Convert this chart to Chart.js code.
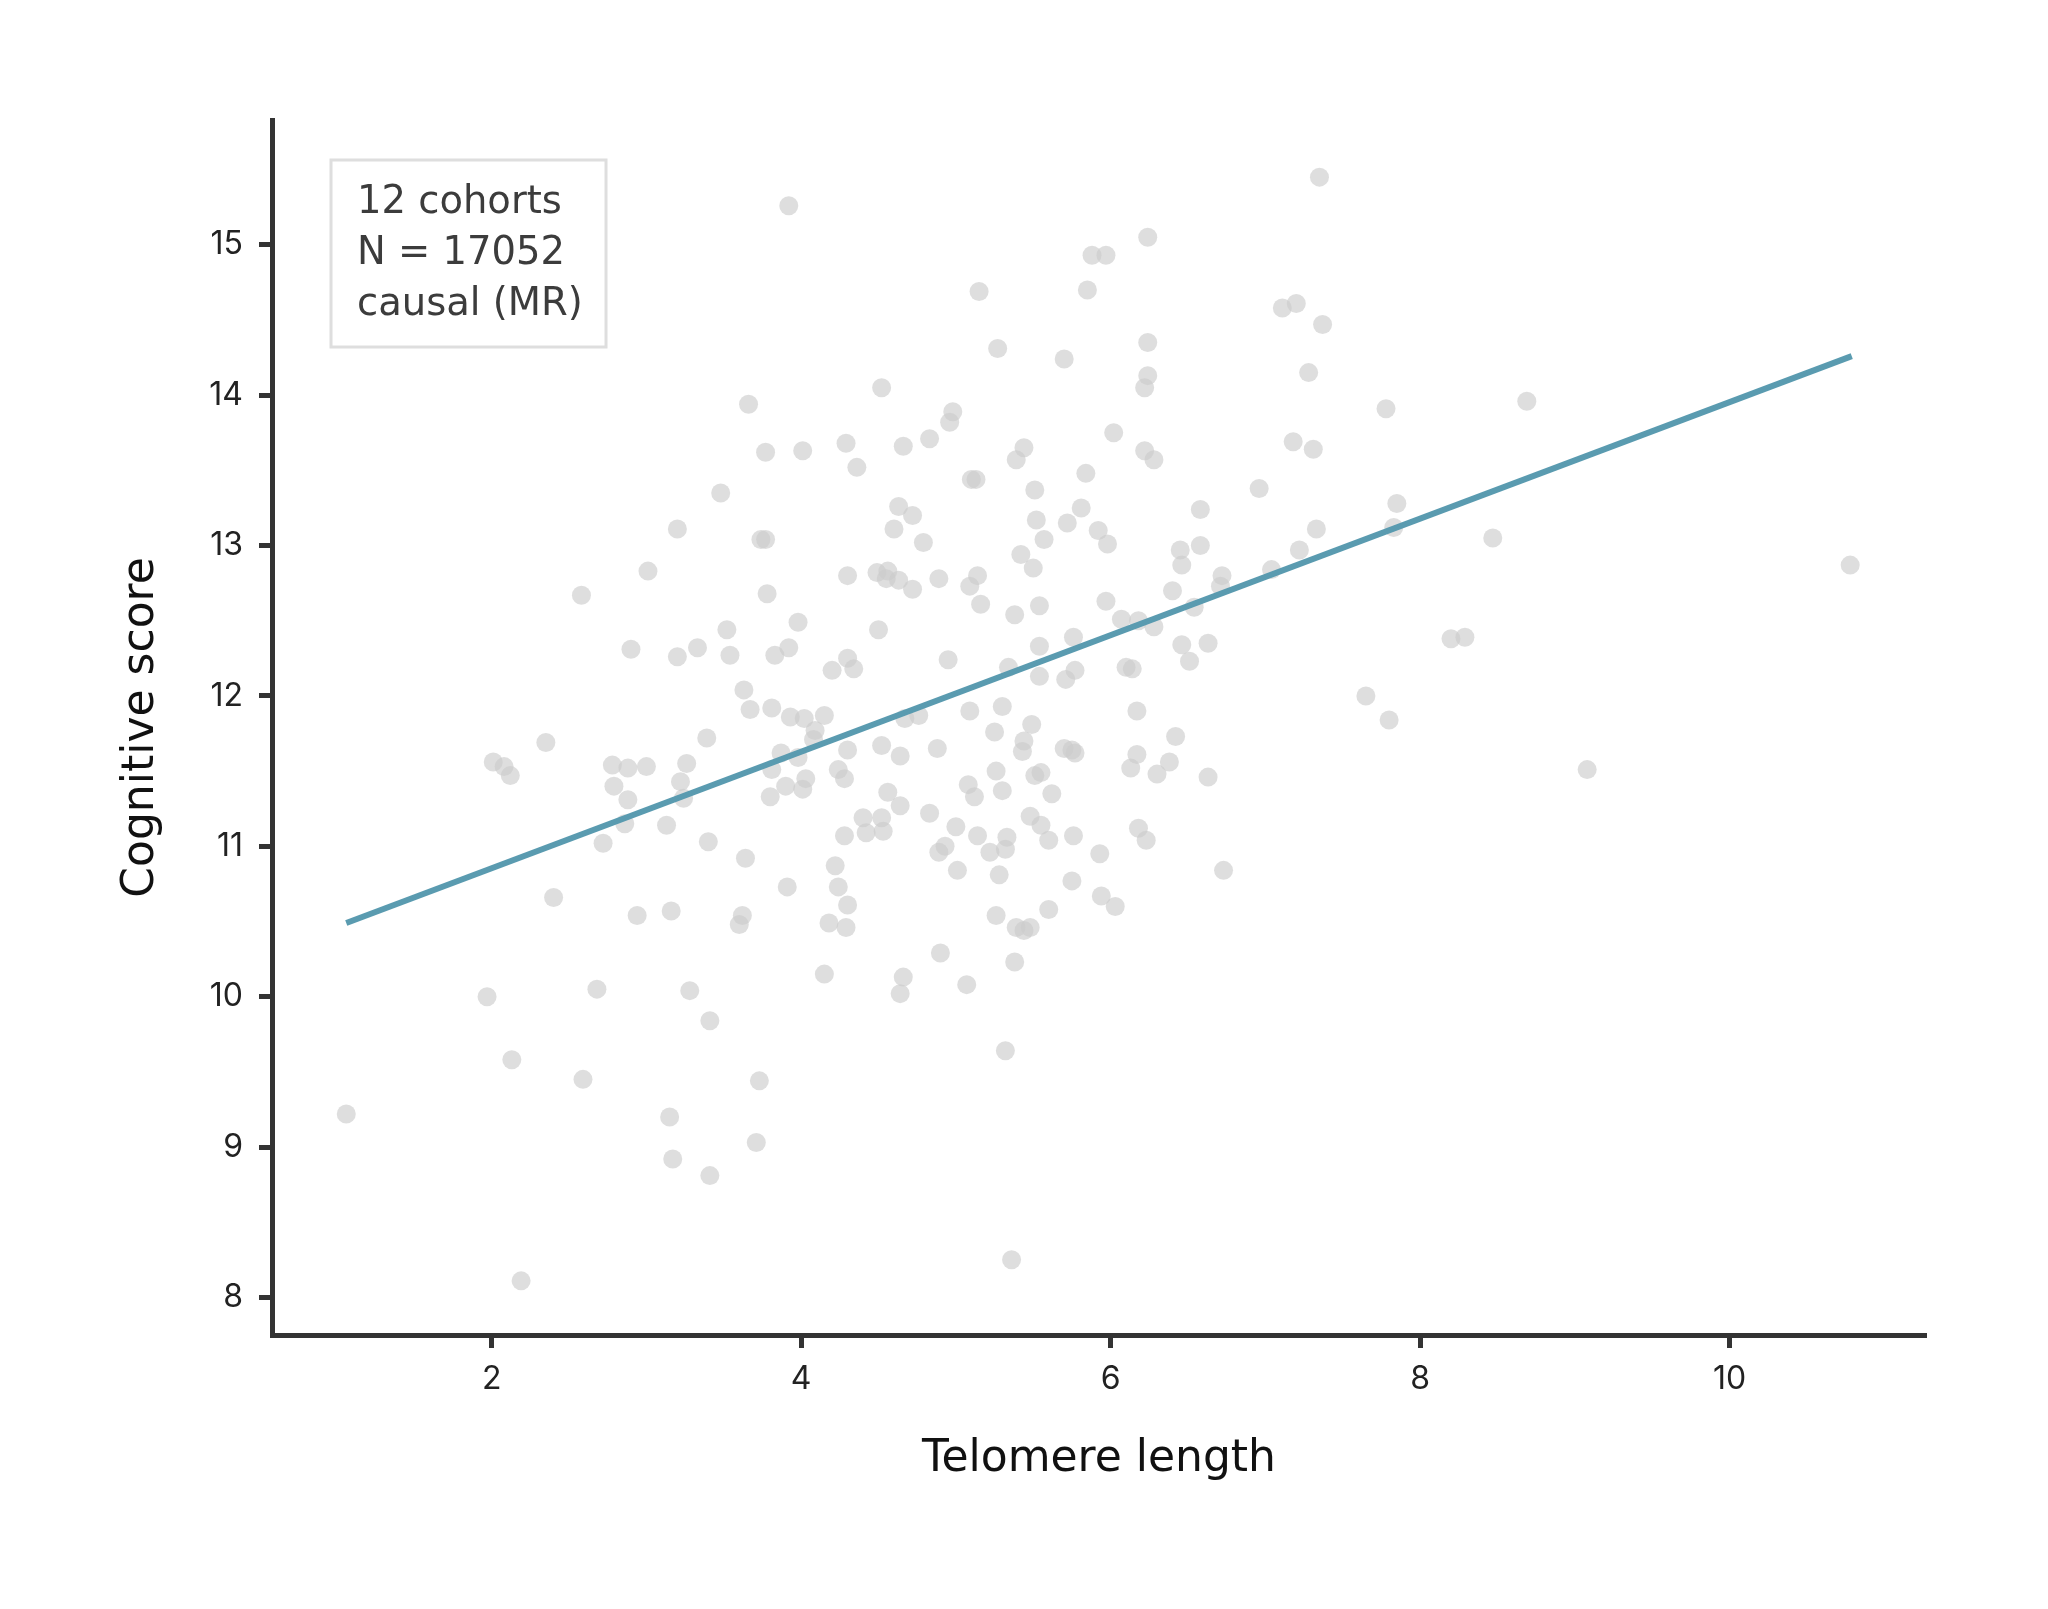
<!DOCTYPE html>
<html>
<head>
<meta charset="utf-8">
<script src="https://cdn.jsdelivr.net/npm/chart.js@4.4.1/dist/chart.umd.min.js"></script>
<style>
  body { margin: 0; background: #fff; }
  #wrap { width: 2048px; height: 1609px; }
</style>
</head>
<body>
<div id="wrap"><canvas id="myChart" width="2048" height="1609"></canvas></div>
<script>
// telomere length (x) and cognitive score (y), one entry per cohort estimate
const telomere = [
  7.35, 3.92, 6.24, 5.88, 5.97, 5.15, 5.85, 7.11, 7.20, 7.37,
  5.27, 6.24, 5.70, 7.28, 6.24, 6.22, 4.52, 3.66, 8.69, 7.78,
  4.98, 4.96, 6.02, 4.83, 7.18, 4.29, 4.66, 5.44, 3.77, 4.01,
  7.31, 6.22, 6.28, 5.39, 4.36, 5.84, 5.13, 5.10, 3.48, 6.96,
  5.51, 4.63, 5.81, 6.58, 7.85, 4.72, 5.52, 5.72, 3.20, 4.60,
  5.92, 7.33, 7.83, 3.74, 3.77, 5.57, 4.79, 5.98, 6.58, 8.47,
  7.22, 6.45, 5.42, 6.46, 10.78, 5.50, 3.01, 4.56, 4.49, 4.30,
  5.14, 4.55, 4.89, 4.63, 6.72, 7.04, 5.09, 4.72, 6.71, 6.40,
  3.78, 2.58, 5.97, 5.16, 5.54, 6.54, 5.38, 6.07, 6.18, 3.98,
  6.28, 3.52, 4.50, 5.76, 8.20, 8.29, 6.63, 3.33, 2.90, 6.46,
  5.54, 3.54, 3.83, 3.92, 3.20, 4.95, 4.30, 6.51, 4.34, 4.20,
  5.34, 6.10, 6.14, 5.71, 5.54, 5.77, 3.63, 7.65, 5.30, 3.67,
  5.09, 6.17, 3.81, 3.93, 4.02, 4.15, 4.67, 4.76, 7.80, 5.49,
  4.09, 5.25, 3.39, 6.42, 4.08, 2.35, 5.44, 4.52, 4.88, 4.30,
  5.70, 5.75, 5.77, 5.43, 3.87, 6.17, 4.64, 3.98, 2.01, 2.08,
  2.12, 2.78, 2.88, 3.00, 3.26, 3.81, 4.24, 5.26, 6.38, 6.13,
  9.08, 5.55, 5.51, 6.30, 6.63, 4.28, 4.03, 3.22, 2.79, 3.90,
  4.01, 5.08, 5.30, 4.56, 5.62, 5.12, 2.88, 3.24, 3.80, 4.64,
  4.83, 5.48, 4.40, 4.52, 5.55, 5.00, 3.13, 2.86, 6.18, 4.53,
  4.42, 4.28, 5.14, 5.76, 5.33, 6.23, 5.60, 2.72, 3.40, 4.93,
  4.89, 5.22, 5.32, 5.93, 3.64, 4.22, 5.01, 6.73, 5.28, 5.75,
  4.24, 3.91, 5.94, 2.40, 4.30, 6.03, 5.60, 3.16, 2.94, 3.62,
  5.26, 3.60, 4.18, 4.29, 5.39, 5.48, 5.44, 4.90, 5.38, 4.15,
  4.66, 5.07, 2.68, 3.28, 4.64, 1.97, 3.41, 2.13, 5.32, 2.59,
  3.73, 1.06, 3.15, 3.71, 3.17, 3.41, 5.36, 2.19
];
const cognitive = [
  15.45, 15.26, 15.05, 14.93, 14.93, 14.69, 14.70, 14.58, 14.61, 14.47,
  14.31, 14.35, 14.24, 14.15, 14.13, 14.05, 14.05, 13.94, 13.96, 13.91,
  13.89, 13.82, 13.75, 13.71, 13.69, 13.68, 13.66, 13.65, 13.62, 13.63,
  13.64, 13.63, 13.57, 13.57, 13.52, 13.48, 13.44, 13.44, 13.35, 13.38,
  13.37, 13.26, 13.25, 13.24, 13.28, 13.20, 13.17, 13.15, 13.11, 13.11,
  13.10, 13.11, 13.12, 13.04, 13.04, 13.04, 13.02, 13.01, 13.00, 13.05,
  12.97, 12.97, 12.94, 12.87, 12.87, 12.85, 12.83, 12.83, 12.82, 12.80,
  12.80, 12.78, 12.78, 12.77, 12.80, 12.84, 12.73, 12.71, 12.73, 12.70,
  12.68, 12.67, 12.63, 12.61, 12.60, 12.59, 12.54, 12.51, 12.50, 12.49,
  12.46, 12.44, 12.44, 12.39, 12.38, 12.39, 12.35, 12.32, 12.31, 12.34,
  12.33, 12.27, 12.27, 12.32, 12.26, 12.24, 12.25, 12.23, 12.18, 12.17,
  12.19, 12.19, 12.18, 12.11, 12.13, 12.17, 12.04, 12.00, 11.93, 11.91,
  11.90, 11.90, 11.92, 11.86, 11.85, 11.87, 11.85, 11.87, 11.84, 11.81,
  11.77, 11.76, 11.72, 11.73, 11.71, 11.69, 11.70, 11.67, 11.65, 11.64,
  11.65, 11.64, 11.62, 11.63, 11.62, 11.61, 11.60, 11.59, 11.56, 11.53,
  11.47, 11.54, 11.52, 11.53, 11.55, 11.51, 11.51, 11.50, 11.56, 11.52,
  11.51, 11.49, 11.47, 11.48, 11.46, 11.45, 11.45, 11.43, 11.40, 11.40,
  11.38, 11.41, 11.37, 11.36, 11.35, 11.33, 11.31, 11.32, 11.33, 11.27,
  11.22, 11.20, 11.19, 11.19, 11.14, 11.13, 11.14, 11.15, 11.12, 11.10,
  11.09, 11.07, 11.07, 11.07, 11.06, 11.04, 11.04, 11.02, 11.03, 11.00,
  10.96, 10.96, 10.98, 10.95, 10.92, 10.87, 10.84, 10.84, 10.81, 10.77,
  10.73, 10.73, 10.67, 10.66, 10.61, 10.60, 10.58, 10.57, 10.54, 10.54,
  10.54, 10.48, 10.49, 10.46, 10.46, 10.46, 10.44, 10.29, 10.23, 10.15,
  10.13, 10.08, 10.05, 10.04, 10.02, 10.00, 9.84, 9.58, 9.64, 9.45,
  9.44, 9.22, 9.20, 9.03, 8.92, 8.81, 8.25, 8.11
];

// fitted MR line end points
const fitX = [1.06, 10.79];
const fitY = [10.49, 14.26];

const xTicks = [2, 4, 6, 8, 10];
const yTicks = [8, 9, 10, 11, 12, 13, 14, 15];
const infoLines = ['12 cohorts', 'N = 17052', 'causal (MR)'];

const points = telomere.map((t, i) => ({ x: t, y: cognitive[i] }));
const fitLine = fitX.map((t, i) => ({ x: t, y: fitY[i] }));

// text box in the upper left corner
const infoBox = {
  id: 'infoBox',
  afterDraw(chart) {
    const c = chart.ctx;
    const a = chart.chartArea;
    const bx = a.left + 59, by = a.top + 40;
    c.save();
    c.fillStyle = '#ffffff';
    c.fillRect(bx, by, 275, 187);
    c.strokeStyle = '#dedede';
    c.lineWidth = 3;
    c.strokeRect(bx, by, 275, 187);
    c.fillStyle = '#3c3c3c';
    c.font = '38.5px "DejaVu Sans"';
    c.textBaseline = 'alphabetic';
    infoLines.forEach((s, i) => {
      c.fillText(s, bx + 26, by + 53 + i * 51);
    });
    c.restore();
  }
};

const tickFont = { family: 'Inter', size: 32 };

var ctx = document.getElementById('myChart');
var myChart = new Chart(ctx, {
  type: 'scatter',
  data: {
    datasets: [
      {
        label: 'fit',
        data: fitLine,
        showLine: true,
        borderColor: '#5a9bb0',
        borderWidth: 6,
        pointRadius: 0,
        fill: false,
        order: 0
      },
      {
        label: 'cohorts',
        data: points,
        backgroundColor: 'rgba(204,204,204,0.65)',
        borderWidth: 0,
        pointRadius: 9.5,
        order: 1
      }
    ]
  },
  options: {
    responsive: false,
    animation: false,
    devicePixelRatio: 1,
    layout: { padding: { top: 120, right: 122, bottom: 0, left: 0 } },
    plugins: {
      legend: { display: false },
      tooltip: { enabled: false }
    },
    scales: {
      x: {
        type: 'linear',
        position: 'bottom',
        min: 0.58,
        max: 11.27,
        afterFit: s => { s.height = 274; },
        afterBuildTicks: s => { s.ticks = xTicks.map(v => ({ value: v })); },
        grid: { drawOnChartArea: false, drawTicks: true, tickLength: 13, tickWidth: 5, tickColor: '#333' },
        border: { display: true, color: '#333', width: 5 },
        ticks: { font: tickFont, color: '#222', padding: 12, maxRotation: 0, autoSkip: false },
        title: {
          display: true,
          text: 'Telomere length',
          font: { family: 'DejaVu Sans', size: 44 },
          color: '#111',
          padding: { top: 0, bottom: 123 }
        }
      },
      y: {
        type: 'linear',
        position: 'left',
        min: 7.75,
        max: 15.83,
        afterFit: s => { s.width = 272; },
        afterBuildTicks: s => { s.ticks = yTicks.map(v => ({ value: v })); },
        grid: { drawOnChartArea: false, drawTicks: true, tickLength: 13, tickWidth: 5, tickColor: '#333' },
        border: { display: true, color: '#333', width: 5 },
        ticks: { font: tickFont, color: '#222', padding: 16, autoSkip: false },
        title: {
          display: true,
          text: 'Cognitive score',
          font: { family: 'DejaVu Sans', size: 44 },
          color: '#111',
          padding: { top: 115, bottom: 0 }
        }
      }
    }
  },
  plugins: [infoBox]
});
</script>
</body>
</html>
